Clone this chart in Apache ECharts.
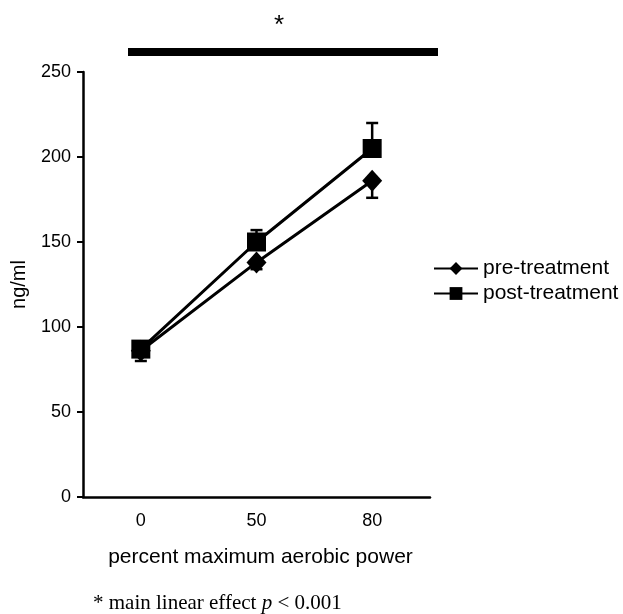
<!DOCTYPE html>
<html>
<head>
<meta charset="utf-8">
<script src="https://cdn.jsdelivr.net/npm/echarts@6/dist/echarts.min.js"></script>
<style>
  html, body { margin: 0; padding: 0; background: #fff; }
  #chart { width: 623px; height: 614px; }
</style>
</head>
<body>
<div id="chart"></div>
<script>
// values
var categories = ["0", "50", "80"];
var preMean = [86, 138, 186];
var preErr = [6, 4, 10];      // drawn downward
var postMean = [87, 150, 205];
var postErr = [4, 7, 15];     // drawn upward
var yTicks = { min: 0, max: 250, interval: 50 };

var chart = echarts.init(document.getElementById("chart"));

function errorSeries(name, means, errs, dir) {
  var data = means.map(function (m, i) { return [i, m, m + dir * errs[i]]; });
  return {
    type: "custom",
    name: name + "-err",
    z: 1,
    silent: true,
    data: data,
    renderItem: function (params, api) {
      var p0 = api.coord([api.value(0), api.value(1)]);
      var p1 = api.coord([api.value(0), api.value(2)]);
      var w = 6;
      var st = { stroke: "#000", lineWidth: 2.5 };
      return {
        type: "group",
        children: [
          { type: "line", shape: { x1: p0[0], y1: p0[1], x2: p1[0], y2: p1[1] }, style: st },
          { type: "line", shape: { x1: p1[0] - w, y1: p1[1], x2: p1[0] + w, y2: p1[1] }, style: st }
        ]
      };
    }
  };
}

chart.setOption({
  animation: false,
  textStyle: { fontFamily: "Liberation Sans, Arial, sans-serif", color: "#000" },
  grid: { left: 83, right: 193, top: 72, bottom: 117, containLabel: false, outerBoundsMode: "none" },
  legend: {
    left: 433,
    top: 258,
    padding: 0,
    orient: "vertical",
    itemWidth: 44,
    itemHeight: 16,
    itemGap: 4,
    data: ["pre-treatment", "post-treatment"],
    textStyle: { fontSize: 21, color: "#000" }
  },
  xAxis: {
    type: "category",
    data: categories,
    boundaryGap: true,
    name: "percent maximum aerobic power",
    nameLocation: "middle",
    nameGap: 50,
    nameTextStyle: { fontSize: 21, color: "#000", padding: [0, 0, 0, 8] },
    axisLine: { lineStyle: { color: "#000", width: 2.5 } },
    axisTick: { length: 6, lineStyle: { color: "#000", width: 2.5 } },
    axisLabel: { fontSize: 18, color: "#000", margin: 15 }
  },
  yAxis: {
    type: "value",
    min: yTicks.min,
    max: yTicks.max,
    interval: yTicks.interval,
    name: "ng/ml",
    nameLocation: "middle",
    nameGap: 54,
    nameTextStyle: { fontSize: 20, color: "#000" },
    splitLine: { show: false },
    axisLine: { show: true, lineStyle: { color: "#000", width: 2.5 } },
    axisTick: { show: true, length: 6, lineStyle: { color: "#000", width: 2 } },
    axisLabel: { fontSize: 18, color: "#000", margin: 12 }
  },
  series: [
    errorSeries("pre", preMean, preErr, -1),
    errorSeries("post", postMean, postErr, 1),
    {
      name: "pre-treatment",
      type: "line",
      data: preMean,
      symbol: "diamond",
      symbolSize: [20, 22],
      z: 3,
      lineStyle: { color: "#000", width: 3 },
      itemStyle: { color: "#000" }
    },
    {
      name: "post-treatment",
      type: "line",
      data: postMean,
      symbol: "rect",
      symbolSize: 19,
      z: 4,
      lineStyle: { color: "#000", width: 3 },
      itemStyle: { color: "#000" }
    }
  ],
  graphic: [
    { type: "rect", shape: { x: 128, y: 48, width: 310, height: 8 }, style: { fill: "#000" } },
    { type: "text", style: { x: 279, y: 26, text: "*", fontSize: 26, fill: "#000", align: "center", verticalAlign: "middle", fontFamily: "Liberation Sans, sans-serif" } },
    { type: "text", style: { x: 93, y: 603, text: "{a|* main linear effect }{i|p}{a| < 0.001}", verticalAlign: "middle",
      rich: {
        a: { fontSize: 21, fontFamily: "Liberation Serif, serif", fill: "#000" },
        i: { fontSize: 21, fontFamily: "Liberation Serif, serif", fontStyle: "italic", fill: "#000" }
      } } }
  ]
});
</script>
</body>
</html>
